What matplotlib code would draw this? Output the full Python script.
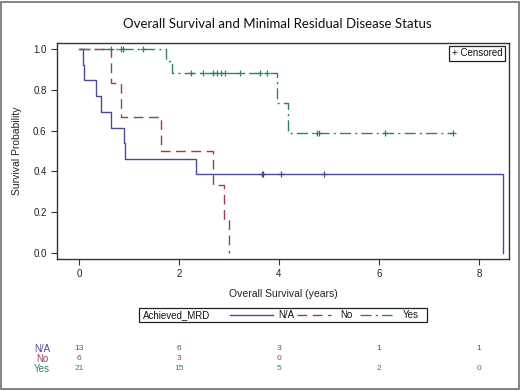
import numpy as np
import matplotlib
matplotlib.use("Agg")
import matplotlib.pyplot as plt
from matplotlib.patches import Rectangle
from matplotlib.lines import Line2D

plt.rcParams['font.family'] = ['Liberation Sans', 'DejaVu Sans']

# ---- data ----
groups = ["N/A", "No", "Yes"]
colors = ["#4a4a9c", "#a03c4c", "#2e8069"]

na_t = [0.0, 0.07, 0.09, 0.33, 0.43, 0.64, 0.89, 0.92, 2.33, 8.47]
na_s = [1.0, 0.923, 0.846, 0.769, 0.692, 0.615, 0.538, 0.462, 0.385, 0.0]
na_cens = [3.66, 3.68, 4.04, 4.89]

no_t = [0.0, 0.64, 0.83, 1.63, 2.67, 2.89, 2.99]
no_s = [1.0, 0.833, 0.667, 0.5, 0.333, 0.167, 0.0]
no_cens = []

yes_t = [0.0, 1.74, 1.85, 3.95, 4.17, 7.47]
yes_s = [1.0, 0.941, 0.882, 0.735, 0.588, 0.588]
yes_cens = [0.64, 0.83, 0.87, 1.27, 2.23, 2.47, 2.68, 2.75, 2.84, 2.92,
            3.22, 3.62, 3.75, 4.75, 4.79, 6.11, 7.47]

risk_times = [0, 2, 4, 6, 8]
risk_na = [13, 6, 3, 1, 1]
risk_no = [6, 3, 0, None, None]
risk_yes = [21, 15, 5, 2, 0]

xticks = [0, 2, 4, 6, 8]
yticks = [0.0, 0.2, 0.4, 0.6, 0.8, 1.0]

W, H = 520, 391
fig = plt.figure(figsize=(W / 100, H / 100), dpi=100)

# overlay for frame/text in pixel coordinates
ov = fig.add_axes([0, 0, 1, 1], zorder=0)
ov.set_xlim(0, W)
ov.set_ylim(H, 0)
ov.axis("off")
ov.add_patch(Rectangle((0.5, 1.5), W - 1.5, H - 3.5, fill=False, ec="#6e6e6e", lw=1.2))

ax = fig.add_axes([57 / W, 1 - 259 / H, (509 - 57) / W, (259 - 43) / H], zorder=2)
ax.set_xlim(-0.44, 8.6)
ax.set_ylim(-0.03, 1.03)

styles = ["-", (0, (7, 4)), (0, (8, 3, 1.5, 3))]
series = [(na_t, na_s, na_cens), (no_t, no_s, no_cens), (yes_t, yes_s, yes_cens)]
for (t, s, c), col, ls in zip(series, colors, styles):
    ax.step(t, s, where="post", color=col, lw=1.0, ls=ls)
    if c:
        t_arr = np.array(t)
        idx = np.searchsorted(t_arr, np.array(c), side="right") - 1
        cy = np.array(s)[idx]
        ax.plot(c, cy, ls="none", marker="+", ms=5, mew=0.9, color=col)

for sp in ax.spines.values():
    sp.set_color("#333333")
    sp.set_linewidth(1.0)
ax.set_xticks(xticks)
ax.set_yticks(yticks)
ax.set_yticklabels([f"{v:.1f}" for v in yticks])
ax.tick_params(direction="out", length=4, width=0.8, colors="#333333", labelsize=7, labelcolor="#222222")
ax.set_ylabel("Survival Probability", fontsize=7.5, color="#222222", labelpad=8)
ax.set_xlabel("Overall Survival (years)", fontsize=7.5, color="#222222", labelpad=7)

# censored box
ax.text(0.985, 0.975, "+ Censored", transform=ax.transAxes, ha="right", va="top",
        fontsize=7, color="#111111",
        bbox=dict(boxstyle="square,pad=0.25", fc="white", ec="#222222", lw=0.9))

# title
ov.text(277, 24, "Overall Survival and Minimal Residual Disease Status",
        ha="center", va="center", fontsize=9.5, family=["Lato", "DejaVu Sans"], color="#111111")

# legend box (manual)
ov.add_patch(Rectangle((139, 308), 288, 14, fill=False, ec="#222222", lw=0.9))
ov.text(143, 315, "Achieved_MRD", ha="left", va="center", fontsize=7, color="#111111")
leg_items = [(230, 273, 278), (297, 331, 340), (360, 392, 403)]
for (x0, x1, tx), col, ls, g in zip(leg_items, colors, styles, groups):
    ov.add_line(Line2D([x0, x1], [315, 315], color=col, lw=1.0, ls=ls))
    ov.text(tx, 315, g, ha="left", va="center", fontsize=7, color="#111111")

# risk table
trans = ax.get_xaxis_transform()
rows_y = [349, 359, 369]
for g, col, vals, py in zip(groups, colors, [risk_na, risk_no, risk_yes], rows_y):
    ya = (259 - py) / 216
    ov.text(42, py, g, ha="center", va="center", fontsize=7, color=col)
    for tx, v in zip(risk_times, vals):
        if v is None:
            continue
        ax.text(tx, ya, str(v), transform=trans, ha="center", va="center",
                fontsize=6, color=col, clip_on=False)

fig.savefig("out.png", dpi=100)
